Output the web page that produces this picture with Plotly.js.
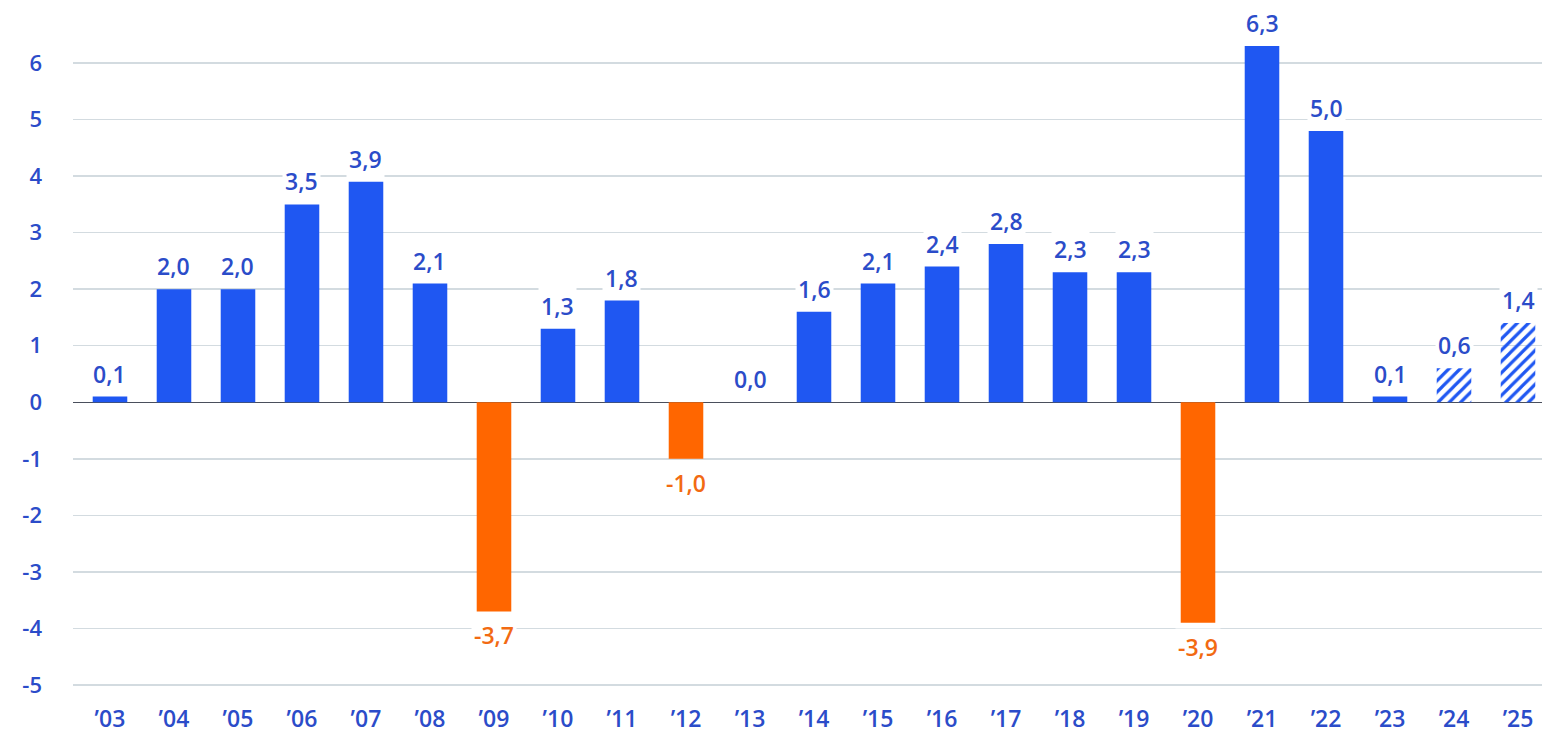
<!DOCTYPE html>
<html>
<head>
<meta charset="utf-8">
<script src="https://cdn.plot.ly/plotly-3.0.1.min.js"></script>
<style>html,body{margin:0;padding:0;background:#fff;}#chart{width:1542px;height:739px;}</style>
</head>
<body>
<div id="chart"></div>
<script>
const years = ["’03","’04","’05","’06","’07","’08","’09","’10","’11","’12","’13","’14","’15","’16","’17","’18","’19","’20","’21","’22","’23","’24","’25"];
const values = [0.1, 2.0, 2.0, 3.5, 3.9, 2.1, -3.7, 1.3, 1.8, -1.0, 0.0, 1.6, 2.1, 2.4, 2.8, 2.3, 2.3, -3.9, 6.3, 4.8, 0.1, 0.6, 1.4];
const valueLabels = ["0,1","2,0","2,0","3,5","3,9","2,1","-3,7","1,3","1,8","-1,0","0,0","1,6","2,1","2,4","2,8","2,3","2,3","-3,9","6,3","5,0","0,1","0,6","1,4"];
const forecast = [false,false,false,false,false,false,false,false,false,false,false,false,false,false,false,false,false,false,false,false,false,true,true];
const yTicks = [6,5,4,3,2,1,0,-1,-2,-3,-4,-5];

const BLUE = "#1f57f2";
const ORANGE = "#ff6600";
const TEXTBLUE = "#2b4cc9";
const TEXTORANGE = "#f26a12";

const barColors = values.map(v => v < 0 ? ORANGE : BLUE);
const patternShapes = forecast.map(f => f ? "/" : "");
const patternBg = values.map((v, i) => forecast[i] ? "#ffffff" : (v < 0 ? ORANGE : BLUE));

const trace = {
  type: "bar",
  x: years,
  y: values,
  width: 0.54,
  marker: {
    color: barColors,
    line: {width: 0},
    pattern: {shape: patternShapes, fgcolor: BLUE, bgcolor: patternBg, size: 8, solidity: 0.4, fillmode: "replace"}
  },
  hoverinfo: "skip"
};

const annotations = years.map((yr, i) => {
  const neg = values[i] < 0;
  return {
    x: yr, y: values[i], xref: "x", yref: "y",
    text: valueLabels[i], showarrow: false,
    yanchor: neg ? "top" : "bottom",
    yshift: neg ? -5 : 4,
    bgcolor: "#ffffff", borderpad: 2,
    font: {family: "Open Sans, sans-serif", size: 23, color: neg ? TEXTORANGE : TEXTBLUE, weight: 600}
  };
});

const layout = {
  width: 1542, height: 739,
  margin: {l: 73, r: 0, t: 25, b: 36},
  paper_bgcolor: "#ffffff", plot_bgcolor: "#ffffff",
  showlegend: false,
  font: {family: "Open Sans, sans-serif", color: TEXTBLUE},
  xaxis: {
    type: "category",
    range: [-0.578, 22.375],
    showgrid: false, zeroline: false, showline: false,
    ticks: "",
    tickfont: {family: "Open Sans, sans-serif", size: 23, color: TEXTBLUE, weight: 600},
    ticklabelstandoff: 0
  },
  yaxis: {
    range: [-5.319, 6.673],
    tickvals: yTicks,
    ticktext: yTicks.map(String),
    showgrid: true, gridcolor: "#d3dbe0", gridwidth: 1.5,
    zeroline: true, zerolinecolor: "#4a4f5c", zerolinewidth: 1.5,
    showline: false, ticks: "",
    tickfont: {family: "Open Sans, sans-serif", size: 22, color: TEXTBLUE, weight: 600},
    ticklabelstandoff: 30
  },
  annotations: annotations
};

Plotly.newPlot("chart", [trace], layout, {displayModeBar: false, staticPlot: true});
</script>
</body>
</html>
